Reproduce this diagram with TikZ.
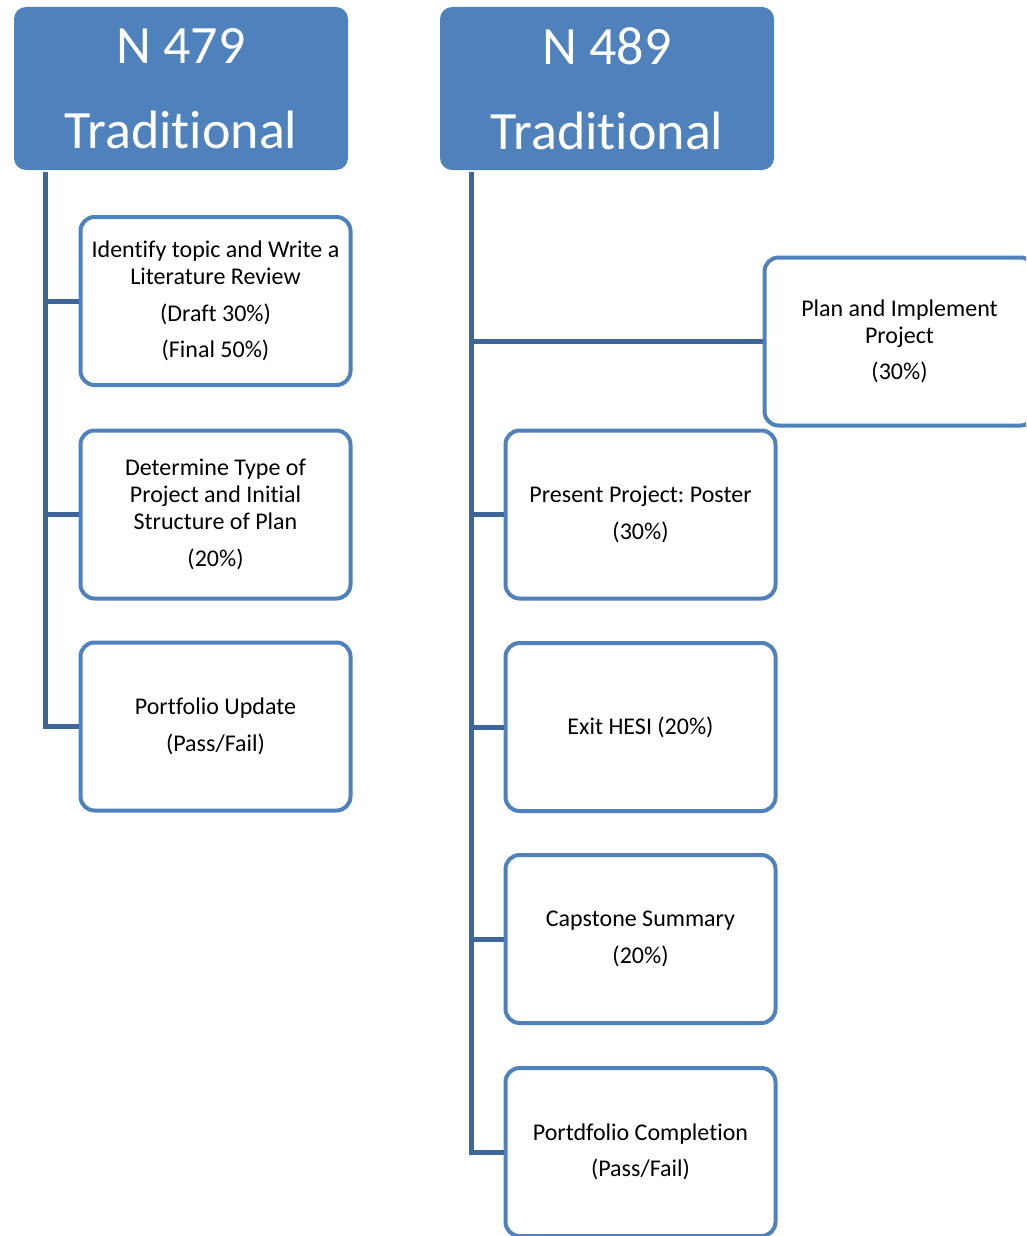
\documentclass[tikz,border=0pt]{standalone}
\usepackage{fontspec}
\setmainfont[Ligatures={NoCommon,NoContextual}]{Carlito}
\usetikzlibrary{positioning}
\definecolor{hdrblue}{RGB}{79,129,189}
\definecolor{linkblue}{RGB}{62,102,152}
\tikzset{
  hdr/.style={fill=hdrblue, rounded corners=12pt, minimum width=334pt,
    minimum height=163pt, inner sep=0pt, text=white, align=center,
    font=\fontsize{54}{85}\selectfont},
  task/.style={draw=hdrblue, line width=4pt, fill=white, rounded corners=14pt,
    minimum width=270pt, minimum height=168pt, inner sep=0pt, align=center,
    font=\fontsize{24}{27}\selectfont},
  link/.style={draw=linkblue, line width=5pt}
}
\frenchspacing

\begin{document}
\begin{tikzpicture}[x=1pt,y=-1pt]
\useasboundingbox (0,0) rectangle (1026,1236);
\clip (0,0) rectangle (1026,1236);

% Headers
\node[hdr] (hdrA) at (181,88.5) {N 479\\Traditional};
\node[hdr] (hdrB) at (607,88.5) {N 489\\Traditional};

% Trunks
\coordinate (trunkA) at (45,172);
\coordinate (trunkB) at (471,172);

% N 479 tasks
\node[task] (litrev) at (215.5,301)
  {Identify topic and Write a\\Literature Review\\[9.5pt](Draft 30\%)\\[9.5pt](Final 50\%)};
\node[task] (projtype) at (215.5,514.5)
  {Determine Type of\\Project and Initial\\Structure of Plan\\[9.5pt](20\%)};
\node[task] (portupd) at (215.5,726.5)
  {Portfolio Update\\[9.5pt](Pass/Fail)};

% N 489 tasks
\node[task] (implement) at (899.5,341.5)
  {Plan and Implement\\Project\\[9.5pt](30\%)};
\node[task] (poster) at (640.5,514.5)
  {Present Project: Poster\\[9.5pt](30\%)};
\node[task] (hesi) at (640.5,727)
  {Exit HESI (20\%)};
\node[task] (capstone) at (640.5,939)
  {Capstone Summary\\[9.5pt](20\%)};
\node[task] (portcomp) at (640.5,1152)
  {Portdfolio Completion\\[9.5pt](Pass/Fail)};

% Connectors
\draw[link] (trunkA) |- (litrev.west);
\draw[link] (trunkA) |- (projtype.west);
\draw[link] (trunkA) |- (portupd.west);

\draw[link] (trunkB) |- (implement.west);
\draw[link] (trunkB) |- (poster.west);
\draw[link] (trunkB) |- (hesi.west);
\draw[link] (trunkB) |- (capstone.west);
\draw[link] (trunkB) |- (portcomp.west);

\end{tikzpicture}
\end{document}
